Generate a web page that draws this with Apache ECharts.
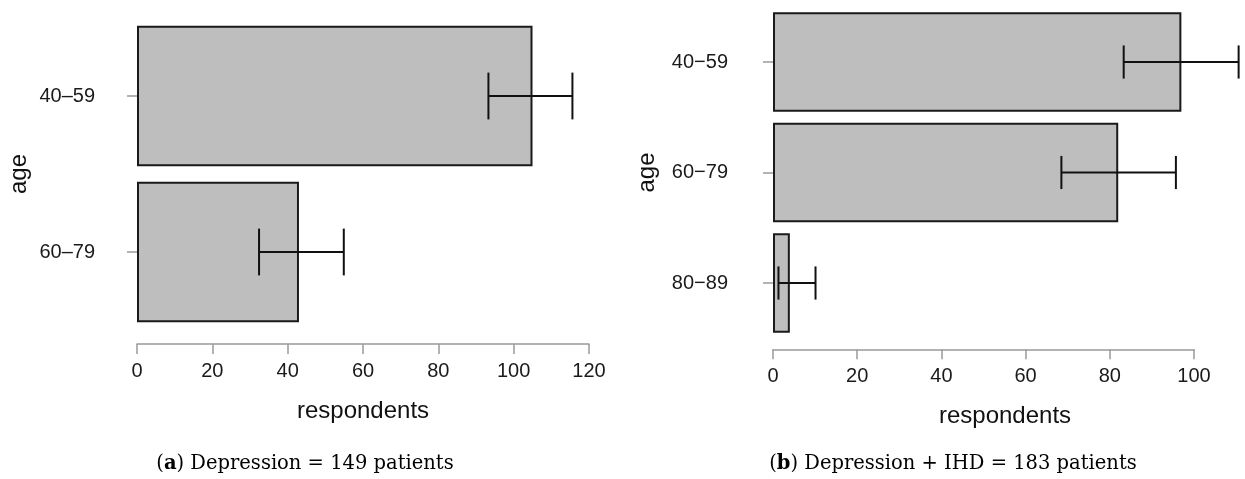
<!DOCTYPE html>
<html>
<head>
<meta charset="utf-8">
<script src="https://cdn.jsdelivr.net/npm/echarts@6/dist/echarts.min.js"></script>
<style>
html,body{margin:0;padding:0;background:#fff;}
#chart{width:1245px;height:479px;}
</style>
</head>
<body>
<div id="chart"></div>
<script>
// Panel (a): Depression = 149 patients
const catsA = ['40–59', '60–79'];
const valsA = [105, 43];
const lowA = [93.3, 32.4];
const highA = [115.6, 54.9];
const ticksA = [0, 20, 40, 60, 80, 100, 120];

// Panel (b): Depression + IHD = 183 patients
const catsB = ['40−59', '60−79', '80−89'];
const valsB = [97, 82, 4];
const lowB = [83.3, 68.5, 1.3];
const highB = [110.6, 95.7, 10.1];
const ticksB = [0, 20, 40, 60, 80, 100];

const captionA = ['a', ') Depression = 149 patients'];
const captionB = ['b', ') Depression + IHD = 183 patients'];

const SANS = '"Liberation Sans", Arial, Helvetica, sans-serif';
const SERIF = '"DejaVu Serif", "Liberation Serif", serif';

function errItem(params, api) {
  const cat = api.value(0);
  const lo = api.coord([api.value(1), cat]);
  const hi = api.coord([api.value(2), cat]);
  const band = api.size([0, 1])[1];
  const cap = band * 0.3;
  const st = {stroke: '#111', lineWidth: 2, fill: null};
  return {
    type: 'group',
    children: [
      {type: 'line', shape: {x1: lo[0], y1: lo[1], x2: hi[0], y2: hi[1]}, style: st},
      {type: 'line', shape: {x1: lo[0], y1: lo[1] - cap / 2, x2: lo[0], y2: lo[1] + cap / 2}, style: st},
      {type: 'line', shape: {x1: hi[0], y1: hi[1] - cap / 2, x2: hi[0], y2: hi[1] + cap / 2}, style: st}
    ]
  };
}

function xAxisCfg(idx, maxV, offset, namePadLeft) {
  return {
    type: 'value', gridIndex: idx, min: 0, max: maxV, interval: 20,
    offset: offset,
    splitLine: {show: false},
    axisLine: {show: true, lineStyle: {color: '#9a9a9a', width: 1.5}},
    axisTick: {show: true, length: 10, lineStyle: {color: '#9a9a9a', width: 1.5}},
    axisLabel: {color: '#1a1a1a', fontSize: 20, fontFamily: SANS, margin: 17},
    name: 'respondents', nameLocation: 'middle', nameGap: 55,
    nameTextStyle: {color: '#111', fontSize: 24, fontFamily: SANS, padding: [0, 0, 0, namePadLeft]}
  };
}

function yAxisCfg(idx, cats, offset, margin, nameGap) {
  return {
    type: 'category', gridIndex: idx, data: cats, inverse: true,
    offset: offset,
    axisLine: {show: false},
    axisTick: {show: true, alignWithLabel: true, length: 10, lineStyle: {color: '#9a9a9a', width: 1.5}},
    axisLabel: {color: '#1a1a1a', fontSize: 20, fontFamily: SANS, margin: margin},
    name: 'age', nameLocation: 'middle', nameGap: nameGap, nameRotate: 90,
    nameTextStyle: {color: '#111', fontSize: 24, fontFamily: SANS}
  };
}

const chart = echarts.init(document.getElementById('chart'), null, {renderer: 'canvas'});
chart.setOption({
  backgroundColor: '#fff',
  animation: false,
  grid: [
    {left: 137, width: 452, top: 18, height: 312},
    {left: 773, width: 421, top: 6.75, height: 331.5}
  ],
  xAxis: [xAxisCfg(0, 120, 14, 0), xAxisCfg(1, 100, 11, 43)],
  yAxis: [yAxisCfg(0, catsA, 22, 20, 84), yAxisCfg(1, catsB, 25, 20, 89)],
  series: [
    {type: 'bar', xAxisIndex: 0, yAxisIndex: 0, data: valsA, barWidth: '90%', z: 2,
     itemStyle: {color: '#bebebe', borderColor: '#1a1a1a', borderWidth: 2}},
    {type: 'custom', xAxisIndex: 0, yAxisIndex: 0, renderItem: errItem, clip: false, z: 5,
     encode: {x: [1, 2], y: 0},
     data: catsA.map((c, i) => [i, lowA[i], highA[i]])},
    {type: 'bar', xAxisIndex: 1, yAxisIndex: 1, data: valsB, barWidth: '90%', z: 2,
     itemStyle: {color: '#bebebe', borderColor: '#1a1a1a', borderWidth: 2}},
    {type: 'custom', xAxisIndex: 1, yAxisIndex: 1, renderItem: errItem, clip: false, z: 5,
     encode: {x: [1, 2], y: 0},
     data: catsB.map((c, i) => [i, lowB[i], highB[i]])}
  ],
  graphic: [
    {type: 'text', x: 305, y: 464, z: 10,
     style: {text: '{n|(}{b|' + captionA[0] + '}{n|' + captionA[1] + '}',
       align: 'center', verticalAlign: 'middle',
       rich: {n: {fontFamily: SERIF, fontSize: 19.5, fill: '#000'},
              b: {fontFamily: SERIF, fontSize: 19.5, fontWeight: 'bold', fill: '#000'}}}},
    {type: 'text', x: 953, y: 464, z: 10,
     style: {text: '{n|(}{b|' + captionB[0] + '}{n|' + captionB[1] + '}',
       align: 'center', verticalAlign: 'middle',
       rich: {n: {fontFamily: SERIF, fontSize: 19.5, fill: '#000'},
              b: {fontFamily: SERIF, fontSize: 19.5, fontWeight: 'bold', fill: '#000'}}}}
  ]
});
</script>
</body>
</html>
